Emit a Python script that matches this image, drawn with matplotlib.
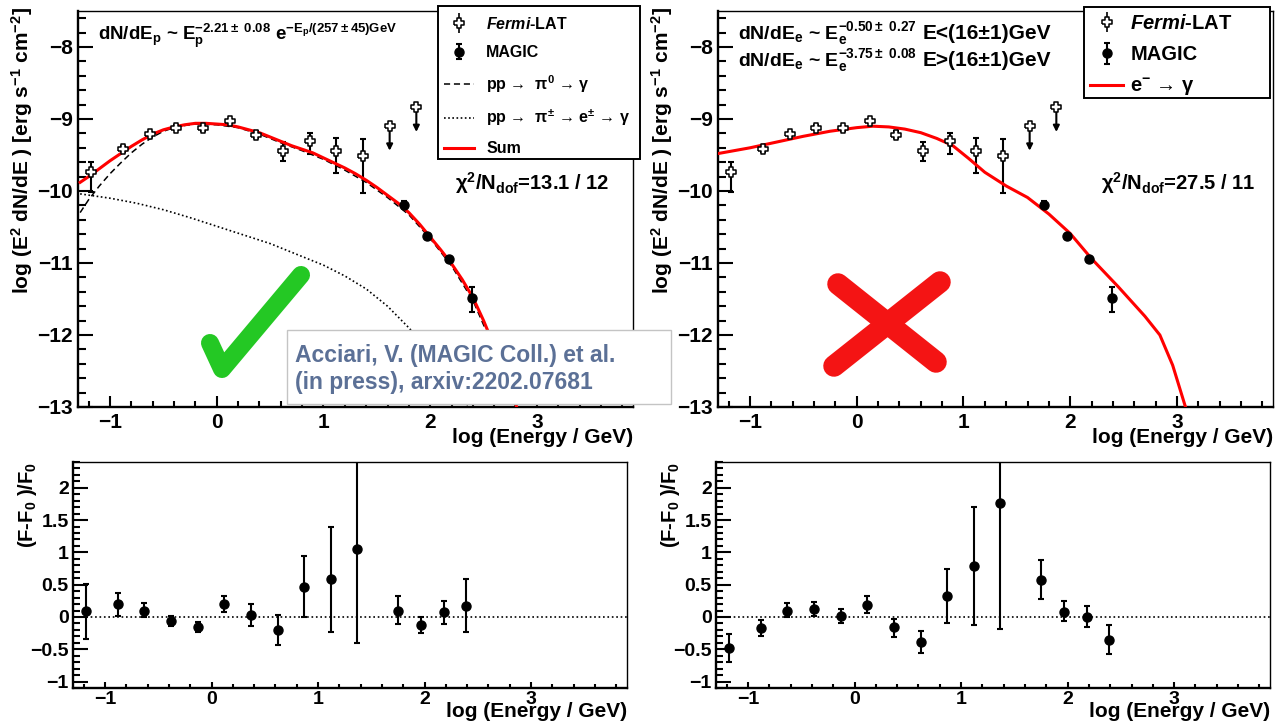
import matplotlib
matplotlib.use('Agg')
import matplotlib.pyplot as plt
from matplotlib.path import Path
from matplotlib.lines import Line2D
from matplotlib.patches import Rectangle
from matplotlib.ticker import MultipleLocator, FuncFormatter

plt.rcParams['font.family'] = 'Liberation Sans'
plt.rcParams['font.weight'] = 'bold'
plt.rcParams['mathtext.fontset'] = 'custom'
plt.rcParams['mathtext.rm'] = 'Liberation Sans:bold'
plt.rcParams['mathtext.it'] = 'Liberation Sans:italic:bold'
plt.rcParams['mathtext.bf'] = 'Liberation Sans:bold'
plt.rcParams['mathtext.default'] = 'rm'

# ---- data ----
fermi_x = [-1.18, -0.88, -0.63, -0.38, -0.13, 0.12, 0.37, 0.62, 0.87, 1.12, 1.37]
fermi_y = [-9.73, -9.42, -9.21, -9.12, -9.13, -9.03, -9.22, -9.45, -9.31, -9.44, -9.51]
fermi_lo = [0.28, 0.04, 0.03, 0.03, 0.03, 0.03, 0.05, 0.14, 0.17, 0.31, 0.52]
fermi_hi = [0.13, 0.04, 0.03, 0.03, 0.03, 0.03, 0.05, 0.13, 0.12, 0.18, 0.23]
ul_x = [1.62, 1.87]
ul_y = [-9.10, -8.84]
ul_len = 0.34
magic_x = [1.75, 1.97, 2.18, 2.39]
magic_y = [-10.19, -10.63, -10.95, -11.48]
magic_lo = [0.05, 0.03, 0.04, 0.20]
magic_hi = [0.05, 0.03, 0.04, 0.14]

# model curves (left: hadronic, right: leptonic)
sum_x = [-1.28, -1.2, -1.1, -1.0, -0.9, -0.8, -0.7, -0.6, -0.5, -0.4, -0.3, -0.2, -0.1, 0.0,
         0.1, 0.2, 0.3, 0.4, 0.5, 0.6, 0.7, 0.8, 0.9, 1.0, 1.1, 1.2, 1.3, 1.4, 1.5, 1.6,
         1.7, 1.8, 1.9, 2.0, 2.1, 2.2, 2.3, 2.4, 2.5, 2.6, 2.7, 2.8, 2.82]
sum_y = [-9.88, -9.80, -9.69, -9.58, -9.48, -9.38, -9.29, -9.21, -9.15, -9.11, -9.08, -9.06,
         -9.06, -9.07, -9.08, -9.11, -9.15, -9.19, -9.25, -9.31, -9.37, -9.42, -9.47, -9.54,
         -9.61, -9.68, -9.76, -9.85, -9.95, -10.06, -10.17, -10.30, -10.46, -10.64, -10.82,
         -11.01, -11.23, -11.48, -11.80, -12.16, -12.55, -12.95, -13.05]
pi0_x = [-1.28, -1.2, -1.1, -1.0, -0.9, -0.8, -0.7, -0.6, -0.5, -0.4, -0.3, -0.2, 0.0, 0.2,
         0.4, 0.6, 0.8, 1.0, 1.2, 1.4, 1.6, 1.8, 2.0, 2.2, 2.4, 2.6, 2.8]
pi0_y = [-10.30, -10.12, -9.93, -9.76, -9.61, -9.47, -9.35, -9.25, -9.17, -9.12, -9.09, -9.07,
         -9.08, -9.12, -9.21, -9.33, -9.44, -9.56, -9.71, -9.88, -10.09, -10.33, -10.66,
         -11.04, -11.52, -12.20, -13.00]
pipm_x = [-1.28, -1.0, -0.75, -0.5, -0.25, 0.0, 0.25, 0.5, 0.75, 1.0, 1.2, 1.4, 1.6, 1.8,
          2.0, 2.2, 2.35]
pipm_y = [-10.04, -10.10, -10.17, -10.26, -10.37, -10.49, -10.61, -10.73, -10.88, -11.03,
          -11.18, -11.36, -11.60, -11.90, -12.24, -12.64, -13.0]
ele_x = [-1.30, -1.00, -0.75, -0.50, -0.25, 0.00, 0.15, 0.30, 0.45, 0.60, 0.75, 0.90, 1.05,
         1.20, 1.40, 1.60, 1.80, 2.00, 2.20, 2.45, 2.70, 2.84, 2.96, 3.08]
ele_y = [-9.48, -9.40, -9.32, -9.24, -9.17, -9.12, -9.10, -9.11, -9.14, -9.19, -9.27, -9.37,
         -9.55, -9.74, -9.93, -10.09, -10.32, -10.59, -10.94, -11.33, -11.74, -12.00,
         -12.42, -13.00]

# residuals
res_x = fermi_x + magic_x
res_pp = [0.09, 0.20, 0.10, -0.07, -0.15, 0.20, 0.03, -0.20, 0.47, 0.59, 1.05, 0.10, -0.12, 0.07, 0.17]
res_pp_lo = [0.43, 0.18, 0.10, 0.07, 0.09, 0.13, 0.17, 0.23, 0.47, 0.82, 1.45, 0.21, 0.13, 0.18, 0.41]
res_pp_hi = [0.42, 0.17, 0.11, 0.09, 0.07, 0.13, 0.17, 0.23, 0.47, 0.80, 1.60, 0.22, 0.12, 0.18, 0.42]
res_e = [-0.48, -0.17, 0.10, 0.12, 0.02, 0.19, -0.16, -0.38, 0.32, 0.79, 1.76, 0.58, 0.08, 0.00, -0.36]
res_e_lo = [0.21, 0.12, 0.10, 0.11, 0.11, 0.13, 0.15, 0.18, 0.42, 0.92, 1.95, 0.30, 0.15, 0.16, 0.22]
res_e_hi = [0.21, 0.12, 0.11, 0.11, 0.10, 0.13, 0.13, 0.17, 0.42, 0.92, 0.90, 0.31, 0.16, 0.17, 0.23]

W, H = 1276, 726
fig = plt.figure(figsize=(W / 100, H / 100), dpi=100)


def px_axes(x0, x1, y0, y1):
    return fig.add_axes([x0 / W, 1 - y1 / H, (x1 - x0) / W, (y1 - y0) / H])


def fx(x):
    return x / W


def fy(y):
    return 1 - y / H


# open cross marker like ROOT's marker 28
a = 0.36
cross = Path([(-1, -a), (-a, -a), (-a, -1), (a, -1), (a, -a), (1, -a), (1, a), (a, a),
              (a, 1), (-a, 1), (-a, a), (-1, a), (-1, -a)])

fmt = FuncFormatter(lambda v, p: ('%g' % round(v, 2)).replace('-', '\u2212'))


def style(ax, ylim, ymaj, ymin, ylen, xlen, lsize, xpad, ypad):
    ax.set_xlim(-1.3, 3.9)
    ax.set_ylim(*ylim)
    ax.xaxis.set_major_locator(MultipleLocator(1))
    ax.xaxis.set_minor_locator(MultipleLocator(0.2))
    ax.yaxis.set_major_locator(MultipleLocator(ymaj))
    ax.yaxis.set_minor_locator(MultipleLocator(ymin))
    ax.xaxis.set_major_formatter(fmt)
    ax.yaxis.set_major_formatter(fmt)
    ax.tick_params(which='both', direction='in', top=False, right=False, width=1.5,
                   labelsize=lsize)
    ax.tick_params(axis='x', which='major', length=xlen[0], pad=xpad)
    ax.tick_params(axis='x', which='minor', length=xlen[1])
    ax.tick_params(axis='y', which='major', length=ylen[0], pad=ypad)
    ax.tick_params(axis='y', which='minor', length=ylen[1])
    for lab in ax.get_xticklabels() + ax.get_yticklabels():
        lab.set_fontweight('bold')
    for s in ['left', 'bottom']:
        ax.spines[s].set_linewidth(1.7)
    for s in ['top', 'right']:
        ax.spines[s].set_linewidth(1.0)


def sed_panel(ax):
    ax.errorbar(fermi_x, fermi_y, yerr=[fermi_lo, fermi_hi], fmt='none', ecolor='k',
                elinewidth=1.5, capsize=2, capthick=1.5, zorder=3)
    ax.plot(fermi_x, fermi_y, ls='none', marker=cross, ms=7, mfc='white', mec='k', mew=1.1,
            zorder=4)
    for x, y in zip(ul_x, ul_y):
        ax.annotate('', xy=(x, y - ul_len), xytext=(x, y),
                    arrowprops=dict(arrowstyle='-|>', color='k', lw=1.5, mutation_scale=9,
                                    shrinkA=0, shrinkB=0), zorder=3)
    ax.plot(ul_x, ul_y, ls='none', marker=cross, ms=7, mfc='white', mec='k', mew=1.1, zorder=4)
    hm = ax.errorbar(magic_x, magic_y, yerr=[magic_lo, magic_hi], fmt='o', color='k', ms=6.5,
                     elinewidth=1.5, capsize=2, capthick=1.5, zorder=4)
    fermi_handle = (Line2D([], [], color='k', lw=1.2, marker='|', ms=14, mew=1.2, ls='none'),
                    Line2D([], [], ls='none', marker=cross, ms=7, mfc='white', mec='k', mew=1.1))
    return fermi_handle, hm


def res_panel(ax, vals, lo, hi):
    ax.axhline(0, ls=':', color='k', lw=1.2, zorder=1)
    ax.errorbar(res_x, vals, yerr=[lo, hi], fmt='o', color='k', ms=6.5, elinewidth=1.5,
                capsize=2, capthick=1.5, zorder=3)


ylab_top = 'log (E$^{2}$ dN/dE ) [erg s$^{-1}$ cm$^{-2}$]'
ylab_bot = '(F-F$_{0}$ )/F$_{0}$'
xlab = 'log (Energy / GeV)'

# ---- top left: hadronic model ----
ax1 = px_axes(78, 633, 11, 407)
fh, mh = sed_panel(ax1)
l_pi0, = ax1.plot(pi0_x, pi0_y, ls=(0, (4, 2.5)), color='k', lw=1.1, zorder=2)
l_pipm, = ax1.plot(pipm_x, pipm_y, ls=(0, (1, 1.5)), color='k', lw=1.2, zorder=2)
l_sum, = ax1.plot(sum_x, sum_y, color='#ff0000', lw=2.2, zorder=3)
style(ax1, (-13, -7.5), 1, 0.2, (11, 5.5), (8, 4), 15, 4.5, 3.5)

# ---- top right: leptonic model ----
ax2 = px_axes(718, 1273, 11, 407)
sed_panel(ax2)
l_ele, = ax2.plot(ele_x, ele_y, color='#ff0000', lw=2.2, zorder=3)
style(ax2, (-13, -7.5), 1, 0.2, (11, 5.5), (8, 4), 15, 4.5, 3.5)

# ---- residual panels ----
ax3 = px_axes(73, 627, 462, 688)
res_panel(ax3, res_pp, res_pp_lo, res_pp_hi)
style(ax3, (-1.1, 2.4), 0.5, 0.1, (11, 5), (4.5, 3), 14, 2, 3)
ax4 = px_axes(716, 1270, 462, 688)
res_panel(ax4, res_e, res_e_lo, res_e_hi)
style(ax4, (-1.1, 2.4), 0.5, 0.1, (11, 5), (4.5, 3), 14, 2, 3)

for ax in (ax1, ax2):
    ax.text(-0.101, 1.01, ylab_top, transform=ax.transAxes, rotation=90, ha='center',
            va='top', fontsize=15)
    ax.text(1.0, -0.053, xlab, transform=ax.transAxes, ha='right', va='top', fontsize=15)
for ax in (ax3, ax4):
    ax.text(-0.083, 1.0, ylab_bot, transform=ax.transAxes, rotation=90, ha='center',
            va='top', fontsize=14.5)
    ax.text(1.0, -0.062, xlab, transform=ax.transAxes, ha='right', va='top', fontsize=15)

# formulas and chi2
ax1.text(0.036, 0.927, r'dN/dE$_{p}$ ~ E$_{p}^{-2.21\pm\ 0.08}$ e$^{-E_{p}/(257\pm45)GeV}$',
         transform=ax1.transAxes, fontsize=13.5, va='baseline')
ax2.text(0.036, 0.929, r'dN/dE$_{e}$ ~ E$_{e}^{-0.50\pm\ 0.27}$', transform=ax2.transAxes,
         fontsize=14, va='baseline')
ax2.text(0.368, 0.929, 'E<(16\u00b11)GeV', transform=ax2.transAxes, fontsize=15,
         va='baseline')
ax2.text(0.036, 0.861, r'dN/dE$_{e}$ ~ E$_{e}^{-3.75\pm\ 0.08}$', transform=ax2.transAxes,
         fontsize=14, va='baseline')
ax2.text(0.368, 0.861, 'E>(16\u00b11)GeV', transform=ax2.transAxes, fontsize=15,
         va='baseline')
ax1.text(0.679, 0.548, r'$\chi^{2}$/N$_{dof}$=13.1 / 12', transform=ax1.transAxes,
         fontsize=14.5, va='baseline')
ax2.text(0.690, 0.548, r'$\chi^{2}$/N$_{dof}$=27.5 / 11', transform=ax2.transAxes,
         fontsize=14.5, va='baseline')

# legends: frames drawn as fixed boxes, entries placed inside
fig.add_artist(Rectangle((fx(438), fy(159)), fx(202), 153 / H, transform=fig.transFigure,
                         facecolor='white', edgecolor='black', lw=1.4, zorder=14))
fig.add_artist(Rectangle((fx(1084), fy(98)), fx(186), 91 / H, transform=fig.transFigure,
                         facecolor='white', edgecolor='black', lw=1.4, zorder=14))
leg1 = fig.legend([fh, mh, l_pi0, l_pipm, l_sum],
                  [r'$\mathit{Fermi}$-LAT', 'MAGIC',
                   'pp \u2192  \u03c0$^{0}$ \u2192 \u03b3',
                   'pp \u2192  \u03c0$^{\u00b1}$ \u2192 e$^{\u00b1}$ \u2192 \u03b3',
                   'Sum'],
                  loc='upper left', bbox_to_anchor=(fx(444), fy(16)), frameon=False,
                  fontsize=11.5, labelspacing=0.82, handlelength=1.9, handletextpad=0.75,
                  borderpad=0, borderaxespad=0)
leg1.set_zorder(15)
leg2 = fig.legend([fh, mh, l_ele],
                  [r'$\mathit{Fermi}$-LAT', 'MAGIC', 'e$^{-}$ \u2192 \u03b3'],
                  loc='upper left', bbox_to_anchor=(fx(1090), fy(14)), frameon=False,
                  fontsize=14.5, labelspacing=0.62, handlelength=1.65, handletextpad=0.35,
                  borderpad=0, borderaxespad=0)
leg2.set_zorder(15)

# reference box
fig.add_artist(Rectangle((fx(287), fy(404)), fx(384), 74 / H, transform=fig.transFigure,
                         facecolor='white', edgecolor='#c4c4c4', lw=1.0, zorder=20))
fig.text(fx(295), fy(362), 'Acciari, V. (MAGIC Coll.) et al.', color='#5b7096',
         fontsize=16.5, va='baseline', zorder=21)
fig.text(fx(295), fy(389), '(in press), arxiv:2202.07681', color='#5b7096',
         fontsize=16.5, va='baseline', zorder=21)

# check mark and cross
fig.add_artist(Line2D([fx(210), fx(222), fx(301)], [fy(343), fy(369), fy(275)],
                      transform=fig.transFigure, color='#24c824', lw=13,
                      solid_capstyle='round', solid_joinstyle='round', zorder=22))
fig.add_artist(Line2D([fx(838), fx(936)], [fy(284), fy(362)], transform=fig.transFigure,
                      color='#f41414', lw=15.5, solid_capstyle='round', zorder=22))
fig.add_artist(Line2D([fx(940), fx(834)], [fy(282), fy(366)], transform=fig.transFigure,
                      color='#f41414', lw=15.5, solid_capstyle='round', zorder=22))

fig.savefig('out.png', dpi=100)
